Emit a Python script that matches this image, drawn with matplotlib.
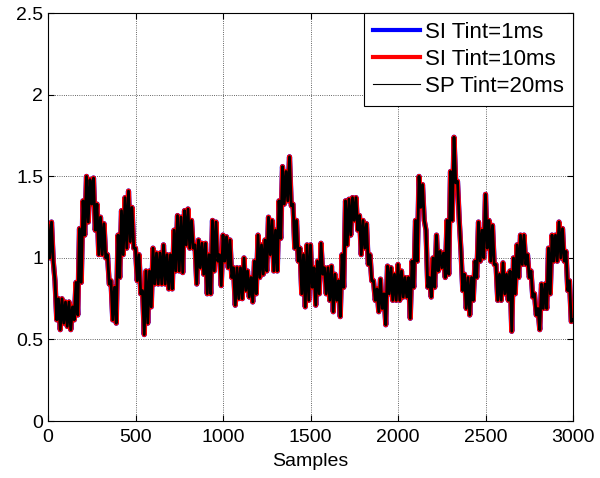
import numpy as np
import matplotlib
matplotlib.use("Agg")
import matplotlib.pyplot as plt

plt.rcParams['font.family'] = ['Liberation Sans', 'DejaVu Sans']

# top and bottom of the noisy trace, every 20 samples;
# the "upper" readings sit at 0, 20, 40 ... and the "lower" ones at 10, 30, 50 ...
upper = [
    1.20, 1.22, 0.86, 0.75, 0.75, 0.73, 0.73, 0.70, 0.85, 1.18,
    1.35, 1.50, 1.48, 1.49, 1.33, 1.25, 1.21, 1.02, 0.86, 0.82,
    1.14, 1.29, 1.37, 1.41, 1.31, 1.06, 1.02, 0.80, 0.92, 0.92,
    1.06, 1.03, 1.03, 1.08, 1.02, 1.02, 1.17, 1.26, 1.25, 1.29,
    1.30, 1.23, 1.08, 1.11, 1.09, 1.09, 1.02, 1.23, 1.22, 1.02,
    1.14, 1.13, 1.11, 0.94, 0.94, 0.94, 1.00, 0.92, 0.88, 0.98,
    1.14, 1.08, 1.11, 1.25, 1.23, 1.17, 1.35, 1.56, 1.53, 1.62,
    1.33, 1.23, 1.06, 1.02, 1.08, 1.08, 0.94, 0.98, 1.09, 0.94,
    0.94, 0.95, 0.90, 0.86, 1.02, 1.35, 1.36, 1.37, 1.37, 1.26,
    1.23, 1.21, 1.02, 0.86, 0.81, 0.87, 0.78, 0.95, 0.94, 0.90,
    0.96, 0.92, 0.88, 0.88, 0.98, 1.23, 1.50, 1.45, 1.17, 0.88,
    1.00, 1.14, 1.04, 1.03, 1.23, 1.53, 1.74, 1.47, 1.04, 0.90,
    0.88, 0.88, 0.98, 1.22, 1.17, 1.39, 1.23, 1.20, 0.96, 0.90,
    0.97, 0.90, 0.92, 1.00, 1.08, 1.14, 1.14, 1.02, 0.92, 0.78,
    0.69, 0.84, 0.84, 1.06, 1.14, 1.14, 1.22, 1.18, 1.04, 0.86,
    0.62,
]
lower = [
    1.00, 0.98, 0.62, 0.56, 0.60, 0.58, 0.56, 0.62, 0.65, 0.85,
    1.14, 1.22, 1.33, 1.17, 1.02, 1.02, 1.00, 0.84, 0.62, 0.60,
    0.88, 1.02, 1.06, 1.10, 1.06, 0.86, 0.78, 0.53, 0.60, 0.70,
    0.84, 0.84, 0.84, 0.84, 0.81, 0.81, 0.92, 0.92, 0.91, 1.08,
    1.06, 1.06, 0.84, 0.94, 0.90, 0.78, 0.78, 0.92, 0.98, 0.83,
    0.98, 0.94, 0.88, 0.71, 0.75, 0.75, 0.80, 0.76, 0.73, 0.78,
    0.88, 0.90, 0.92, 1.02, 0.92, 0.92, 1.12, 1.33, 1.35, 1.32,
    1.06, 0.98, 0.78, 0.70, 0.74, 0.82, 0.71, 0.78, 0.90, 0.78,
    0.74, 0.67, 0.74, 0.64, 0.82, 1.08, 1.14, 1.23, 1.17, 1.02,
    1.06, 0.96, 0.86, 0.74, 0.67, 0.69, 0.59, 0.78, 0.74, 0.74,
    0.74, 0.76, 0.76, 0.63, 0.82, 0.98, 1.31, 1.23, 0.82, 0.76,
    0.82, 0.92, 0.94, 0.88, 0.90, 1.23, 1.46, 1.23, 0.80, 0.69,
    0.65, 0.74, 0.88, 0.98, 1.00, 1.06, 0.98, 0.96, 0.74, 0.74,
    0.78, 0.74, 0.55, 0.78, 0.88, 0.96, 0.96, 0.88, 0.76, 0.65,
    0.56, 0.69, 0.69, 0.78, 0.98, 0.98, 1.00, 0.98, 0.80, 0.61,
]

samples = np.arange(0, 3001, 10)
trace = np.empty(len(samples))
trace[0::2] = upper
trace[1::2] = lower

si_1ms = trace
si_10ms = trace
sp_20ms = trace

series = [
    ("SI Tint=1ms", si_1ms, "#0000ff", 3.8),
    ("SI Tint=10ms", si_10ms, "#ff0000", 3.6),
    ("SP Tint=20ms", sp_20ms, "#000000", 2.0),
]

fig = plt.figure(figsize=(6, 4.78), dpi=100)
ax = fig.add_axes([0.08, 0.1192, 0.875, 0.853])

for name, vals, col, lw in series:
    ax.plot(samples, vals, color=col, linewidth=lw, label=name)

ax.set_xlim(0, 3000)
ax.set_ylim(0, 2.5)
ax.set_xticks(np.arange(0, 3001, 500))
ax.set_yticks([0, 0.5, 1, 1.5, 2, 2.5])
ax.set_yticklabels(["0", "0.5", "1", "1.5", "2", "2.5"])
ax.tick_params(direction='in', top=True, right=True, labelsize=14, length=4)
ax.tick_params(axis='x', pad=6)
ax.set_xlabel("Samples", fontsize=14, labelpad=5)
ax.grid(True, linestyle=':', color='black', linewidth=0.6, alpha=0.8)

leg = ax.legend(loc='upper right', fontsize=16, fancybox=False, framealpha=1,
                edgecolor='black', borderaxespad=0, handlelength=2.1,
                handletextpad=0.25, labelspacing=0.27, borderpad=0.4)
leg.get_frame().set_linewidth(0.8)
for h in leg.get_lines()[:2]:
    h.set_linewidth(3)
leg.get_lines()[2].set_linewidth(0.8)

fig.savefig("out.png", dpi=100)
